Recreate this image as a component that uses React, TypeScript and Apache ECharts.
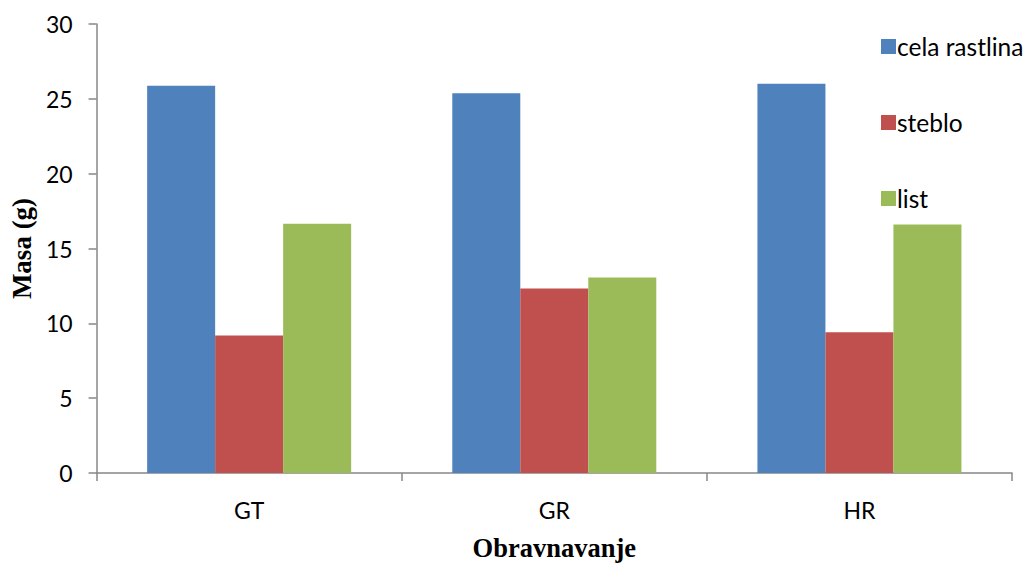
import React, { useEffect, useRef } from "react";
import * as echarts from "echarts";

const categories = ["GT", "GR", "HR"];
const seriesNames = ["cela rastlina", "steblo", "list"];
const celaRastlina = [25.87, 25.38, 26.0];
const steblo = [9.19, 12.32, 9.41];
const list = [16.66, 13.07, 16.6];
const yTicks = { min: 0, max: 30, interval: 5 };
const colors = ["#4F81BD", "#C0504D", "#9BBB59"];

export default function App() {
  const ref = useRef<HTMLDivElement>(null);
  useEffect(() => {
    if (!ref.current) return;
    const chart = echarts.init(ref.current, undefined, { renderer: "svg" });
    const axisColor = "#878787";
    const font = "Lato";
    chart.setOption({
      animation: false,
      color: colors,
      grid: { left: 95, right: 16, top: 24, bottom: 87, containLabel: false },
      legend: {
        orient: "vertical",
        left: 876,
        top: 29,
        itemWidth: 15,
        itemHeight: 15,
        itemGap: 51,
        icon: "rect",
        textStyle: { fontFamily: font, fontSize: 24.5, color: "#000", lineHeight: 24, padding: [0, 0, 0, -4] },
        data: seriesNames,
      },
      xAxis: {
        type: "category",
        data: categories,
        name: "Obravnavanje",
        nameLocation: "middle",
        nameGap: 61,
        nameTextStyle: { fontFamily: "Liberation Serif", fontWeight: "bold", fontSize: 26.5, color: "#000" },
        axisLine: { lineStyle: { color: axisColor, width: 1.5 } },
        axisTick: { show: true, length: 8, lineStyle: { color: axisColor, width: 1.5 } },
        axisLabel: { fontFamily: font, fontSize: 23, color: "#000", margin: 25 },
      },
      yAxis: {
        type: "value",
        min: yTicks.min,
        max: yTicks.max,
        interval: yTicks.interval,
        name: "Masa (g)",
        nameLocation: "middle",
        nameGap: 58,
        nameTextStyle: { fontFamily: "Liberation Serif", fontWeight: "bold", fontSize: 27, color: "#000" },
        axisLine: { show: true, lineStyle: { color: axisColor, width: 1.5 } },
        axisTick: { show: true, length: 8, lineStyle: { color: axisColor, width: 1.5 } },
        axisLabel: { fontFamily: font, fontSize: 23, color: "#000", margin: 24 },
        splitLine: { show: false },
      },
      series: [
        { name: seriesNames[0], type: "bar", data: celaRastlina, barWidth: 68, barGap: "0%" },
        { name: seriesNames[1], type: "bar", data: steblo, barWidth: 68, barGap: "0%" },
        { name: seriesNames[2], type: "bar", data: list, barWidth: 68, barGap: "0%" },
      ],
    });
    return () => chart.dispose();
  }, []);
  return <div ref={ref} style={{ width: 1028, height: 566, position: "absolute", left: 0, top: 0 }} />;
}
